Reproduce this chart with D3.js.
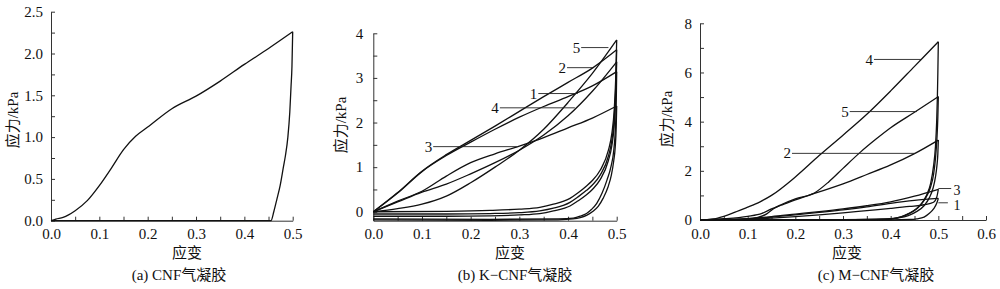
<!DOCTYPE html>
<html>
<head>
<meta charset="utf-8">
<script src="https://cdn.jsdelivr.net/npm/d3@7"></script>
<style>
  body { margin: 0; background: #fff; }
  .axis path, .axis line { stroke: #333; }
  .curve { fill: none; stroke: #111; stroke-width: 1.3; }
  .lead { stroke: #222; stroke-width: 0.9; }
</style>
</head>
<body>
<svg id="chart" width="1000" height="289"></svg>
<script>
// ---- (a) CNF aerogel : [strain, stress kPa]
var cnfLoad = [[0,0],[0.01,0.02],[0.025,0.04],[0.05,0.12],[0.075,0.24],[0.1,0.42],[0.125,0.63],[0.15,0.85],[0.175,1.01],
  [0.2,1.12],[0.25,1.34],[0.3,1.49],[0.35,1.67],[0.4,1.87],[0.45,2.06],[0.5,2.26]];
var cnfUnload = [[0.5,2.26],[0.4985,1.85],[0.4965,1.6],[0.494,1.3],[0.49,1.0],[0.485,0.78],[0.481,0.65],[0.474,0.42],
  [0.467,0.25],[0.461,0.11],[0.455,0],[0.3,0],[0,0]];

// ---- (b) K-CNF aerogel, cycles 1..5
var kLoad1 = [[0,0],[0.05,0.42],[0.1,0.9],[0.15,1.26],[0.2,1.56],[0.25,1.85],[0.3,2.12],[0.35,2.36],[0.4,2.58],[0.45,2.82],[0.5,3.14]];
var kLoad2 = [[0,0],[0.05,0.43],[0.1,0.91],[0.15,1.28],[0.2,1.6],[0.25,1.92],[0.3,2.25],[0.35,2.58],[0.4,2.9],[0.45,3.22],[0.5,3.63]];
var kLoad3 = [[0,0],[0.05,0.24],[0.1,0.46],[0.15,0.8],[0.2,1.1],[0.25,1.3],[0.3,1.47],[0.35,1.66],[0.4,1.88],[0.45,2.1],[0.5,2.37]];
var kLoad4 = [[0,0],[0.05,0.22],[0.1,0.44],[0.15,0.62],[0.2,0.85],[0.25,1.1],[0.3,1.38],[0.35,1.72],[0.4,2.15],[0.45,2.7],[0.5,3.36]];
var kLoad5 = [[0,0],[0.05,0.07],[0.1,0.17],[0.15,0.35],[0.2,0.65],[0.25,1.0],[0.3,1.38],[0.35,1.85],[0.4,2.45],[0.45,3.1],[0.5,3.85]];
var kUnload1 = [[0.5,3.14],[0.499,2.4],[0.497,1.8],[0.494,1.38],[0.488,1.0],[0.48,0.71],[0.47,0.42],[0.459,0.19],[0.448,0.05],
  [0.438,-0.04],[0.425,-0.1],[0.411,-0.14],[0.38,-0.16],[0.24,-0.17],[0,-0.16]];
var kUnload2 = [[0.5,3.63],[0.498,2.8],[0.495,2.1],[0.49,1.6],[0.483,1.25],[0.466,0.82],[0.45,0.6],[0.438,0.48],[0.42,0.33],
  [0.404,0.21],[0.37,0.08],[0.342,0.02],[0.3,-0.02],[0.24,-0.04],[0.15,-0.05],[0,-0.05]];
var kUnload3 = [[0.5,2.37],[0.499,1.9],[0.497,1.45],[0.494,1.15],[0.489,0.82],[0.482,0.55],[0.472,0.3],[0.462,0.12],[0.45,0.0],
  [0.438,-0.08],[0.425,-0.13],[0.41,-0.16],[0.38,-0.18],[0.24,-0.19],[0,-0.18]];
var kUnload4 = [[0.5,3.36],[0.498,2.6],[0.495,1.95],[0.49,1.48],[0.483,1.15],[0.466,0.72],[0.45,0.5],[0.438,0.38],[0.42,0.24],
  [0.404,0.13],[0.37,0.02],[0.342,-0.04],[0.3,-0.07],[0.24,-0.09],[0.15,-0.1],[0,-0.1]];
var kUnload5 = [[0.5,3.85],[0.498,3.0],[0.495,2.3],[0.49,1.75],[0.483,1.38],[0.466,0.93],[0.45,0.7],[0.438,0.58],[0.42,0.42],
  [0.404,0.3],[0.37,0.17],[0.342,0.1],[0.3,0.06],[0.24,0.03],[0.15,0.01],[0,0]];

// ---- (c) M-CNF aerogel, cycles 1..5
var mLoad1 = [[0,0],[0.05,0.01],[0.1,0.05],[0.15,0.12],[0.2,0.21],[0.25,0.31],[0.3,0.41],[0.35,0.53],[0.4,0.68],[0.45,0.8],[0.5,0.88]];
var mLoad2 = [[0,0],[0.05,0.05],[0.1,0.15],[0.13,0.27],[0.15,0.45],[0.17,0.6],[0.2,0.82],[0.24,1.08],[0.3,1.47],[0.35,1.85],
  [0.4,2.24],[0.45,2.7],[0.5,3.25]];
var mLoad3 = [[0,0],[0.05,0.01],[0.1,0.06],[0.15,0.14],[0.2,0.24],[0.25,0.34],[0.3,0.45],[0.35,0.58],[0.4,0.74],[0.45,0.97],[0.5,1.25]];
var mLoad4 = [[0,0],[0.025,0.03],[0.05,0.15],[0.075,0.33],[0.1,0.52],[0.126,0.74],[0.15,1.0],[0.2,1.75],[0.25,2.62],[0.3,3.45],
  [0.35,4.3],[0.4,5.25],[0.45,6.25],[0.5,7.25]];
var mLoad5 = [[0,0],[0.05,0],[0.1,0.01],[0.12,0.1],[0.14,0.25],[0.155,0.47],[0.17,0.62],[0.2,0.86],[0.24,1.1],[0.27,1.55],
  [0.3,2.1],[0.336,2.75],[0.37,3.3],[0.4,3.75],[0.45,4.38],[0.5,5.02]];
var mUnload1 = [[0.5,0.88],[0.497,0.7],[0.49,0.45],[0.48,0.25],[0.47,0.12],[0.455,0.05],[0.44,0.02],[0.4,0],[0,0]];
var mUnload2 = [[0.5,3.25],[0.499,2.7],[0.497,2.2],[0.494,1.75],[0.489,1.3],[0.481,0.9],[0.47,0.58],[0.455,0.35],[0.437,0.18],
  [0.415,0.08],[0.39,0.03],[0.3,0.01],[0,0]];
var mUnload3 = [[0.5,1.25],[0.497,0.95],[0.49,0.72],[0.47,0.62],[0.44,0.55],[0.4,0.47],[0.35,0.38],[0.3,0.29],[0.25,0.21],
  [0.2,0.14],[0.15,0.08],[0.1,0.03],[0.05,0.01],[0,0]];
var mUnload4 = [[0.5,7.25],[0.499,6.0],[0.498,5.0],[0.4965,4.0],[0.494,3.0],[0.49,2.2],[0.484,1.5],[0.475,1.0],[0.462,0.6],
  [0.445,0.33],[0.425,0.15],[0.405,0.06],[0.38,0.03],[0.3,0.01],[0,0]];
var mUnload5 = [[0.5,5.02],[0.499,4.2],[0.497,3.3],[0.494,2.5],[0.49,1.85],[0.483,1.3],[0.472,0.85],[0.458,0.52],[0.44,0.28],
  [0.42,0.12],[0.4,0.05],[0.37,0.02],[0.3,0.01],[0,0]];

// cycle labels: [text, textStrain, lineStartStrain, lineEndStrain, stress]
var kLabels = [["5",0.414,0.427,0.483,3.68],["2",0.385,0.398,0.452,3.23],["1",0.327,0.339,0.42,2.65],
  ["4",0.247,0.26,0.414,2.33],["3",0.112,0.123,0.295,1.46]];
var mLabels = [["4",0.353,0.365,0.465,6.53],["5",0.299,0.314,0.455,4.41],["2",0.178,0.193,0.451,2.71]];
// [text, lineStart, lineEnd, stress, textStrain]
var mSideLabels = [["3",0.5,0.527,1.28,0.532],["1",0.5,0.52,0.7,0.532]];

var xTicksA = [0,0.1,0.2,0.3,0.4,0.5], yTicksA = [0,0.5,1.0,1.5,2.0,2.5];
var xTicksB = [0,0.1,0.2,0.3,0.4,0.5], yTicksB = [0,1,2,3,4];
var xTicksC = [0,0.1,0.2,0.3,0.4,0.5,0.6], yTicksC = [0,2,4,6,8];

var FONT = '"Liberation Serif", "DejaVu Serif", "Noto Sans CJK SC", serif';

var svg = d3.select('#chart');
svg.append('rect').attr('width',1000).attr('height',289).attr('fill','#fff');

function txt(sel, size) {
  return sel.style('font-family', FONT).style('font-size', size + 'px').style('fill', '#111');
}

function panel(opt) {
  var x = d3.scaleLinear().domain(opt.xd).range(opt.xr);
  var y = d3.scaleLinear().domain(opt.yd).range(opt.yr);
  var g = svg.append('g');

  // minor + major ticks, all pointing inward
  var xAll = d3.range(opt.xd[0], opt.xd[1] + 1e-9, opt.xMinor);
  var yAll = d3.range(opt.yd[0] < 0 ? 0 : opt.yd[0], opt.yd[1] + 1e-9, opt.yMinor);
  var isMajor = (v, arr) => arr.some(t => Math.abs(t - v) < 1e-6);

  g.append('g').attr('class','axis')
    .attr('transform','translate(0,' + opt.yr[0] + ')')
    .call(d3.axisBottom(x).tickValues(xAll).tickSizeInner(-4).tickSizeOuter(0).tickPadding(8)
      .tickFormat(v => isMajor(v, opt.xt) ? d3.format('.1f')(v) : ''))
    .call(s => txt(s.selectAll('text'), 15));

  g.append('g').attr('class','axis')
    .attr('transform','translate(' + opt.xr[0] + ',0)')
    .call(d3.axisLeft(y).tickValues(yAll).tickSizeInner(-4).tickSizeOuter(0).tickPadding(opt.yPad)
      .tickFormat(v => isMajor(v, opt.yt) ? opt.yf(v) : ''))
    .call(s => txt(s.selectAll('text'), 15));

  var line = d3.line().x(d => x(d[0])).y(d => y(d[1])).curve(d3.curveMonotoneX);
  g.selectAll('path.curve')
    .data(opt.curves)
    .enter()
    .append('path')
    .classed('curve', true)
    .attr('d', d => line(d));

  // leader labels on the left of the curve
  (opt.labels || []).forEach(function(l) {
    g.append('line').classed('lead', true)
      .attr('x1', x(l[2])).attr('x2', x(l[3]))
      .attr('y1', y(l[4])).attr('y2', y(l[4]));
    txt(g.append('text'), 15)
      .attr('x', x(l[2]) - 1).attr('y', y(l[4]))
      .attr('dy', '0.34em').attr('text-anchor','end')
      .text(l[0]);
  });
  (opt.sideLabels || []).forEach(function(l) {
    g.append('line').classed('lead', true)
      .attr('x1', x(l[1])).attr('x2', x(l[2]))
      .attr('y1', y(l[3])).attr('y2', y(l[3]));
    txt(g.append('text'), 14)
      .attr('x', x(l[4])).attr('y', y(l[3]) + 2)
      .attr('dy', '0.34em')
      .text(l[0]);
  });

  txt(g.append('text'), 15)
    .attr('transform', 'translate(' + opt.ylab[0] + ',' + opt.ylab[1] + ') rotate(-90)')
    .attr('text-anchor','middle').attr('dy','0.36em')
    .text('应力/kPa');
  txt(g.append('text'), 15)
    .attr('x', opt.xlab).attr('y', 253).attr('dy','0.36em')
    .attr('text-anchor','middle')
    .text('应变');
  txt(g.append('text'), 15)
    .attr('x', opt.cap[0]).attr('y', 275).attr('dy','0.36em')
    .attr('text-anchor','middle')
    .text(opt.cap[1]);
}

panel({
  xd: [0, 0.5], xr: [51, 292.7], yd: [0, 2.5], yr: [220.7, 11.7],
  xMinor: 0.05, yMinor: 0.25, xt: xTicksA, yt: yTicksA, yf: d3.format('.1f'), yPad: 8,
  curves: [cnfLoad, cnfUnload],
  ylab: [13, 120], xlab: 187, cap: [179, '(a) CNF气凝胶']
});

panel({
  xd: [0, 0.5], xr: [373.3, 616.7], yd: [-0.2, 4], yr: [220.7, 33.3],
  xMinor: 0.05, yMinor: 0.5, xt: xTicksB, yt: yTicksB, yf: d3.format('d'), yPad: 10,
  curves: [kLoad1, kLoad2, kLoad3, kLoad4, kLoad5, kUnload1, kUnload2, kUnload3, kUnload4, kUnload5],
  labels: kLabels,
  ylab: [341, 125], xlab: 510, cap: [515, '(b) K−CNF气凝胶']
});

panel({
  xd: [0, 0.6], xr: [700, 986], yd: [0, 8], yr: [220, 23.3],
  xMinor: 0.05, yMinor: 1, xt: xTicksC, yt: yTicksC, yf: d3.format('d'), yPad: 8,
  curves: [mLoad1, mLoad2, mLoad3, mLoad4, mLoad5, mUnload1, mUnload2, mUnload3, mUnload4, mUnload5],
  labels: mLabels, sideLabels: mSideLabels,
  ylab: [667, 119], xlab: 847, cap: [876, '(c) M−CNF气凝胶']
});
</script>
</body>
</html>
